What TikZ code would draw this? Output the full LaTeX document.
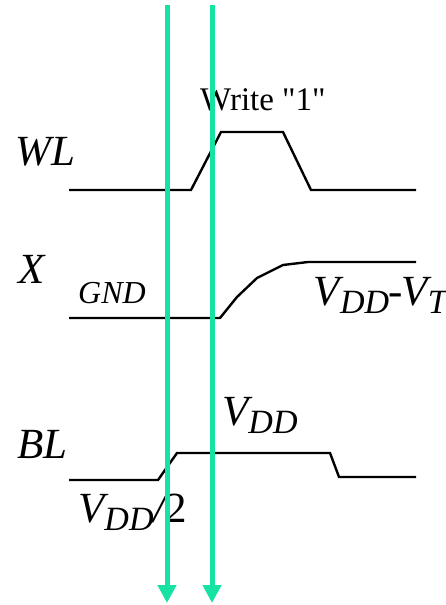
\documentclass[tikz,border=0pt]{standalone}
\usepackage{fontspec}
\setmainfont{Liberation Serif}
\usetikzlibrary{arrows.meta}
\definecolor{mint}{RGB}{22,226,164}
\newcommand{\vsub}[1]{\raisebox{-8pt}{\fontsize{34}{34}\selectfont #1}}
\begin{document}
\begin{tikzpicture}[x=1pt,y=-1pt,
  sig/.style={line width=2.4pt,line join=miter},
  lbl/.style={inner sep=0pt,anchor=base west,font=\fontsize{43}{43}\selectfont\itshape},
  guide/.style={draw=mint,line width=5pt,-{Triangle[width=18pt,length=18pt]}}]
\useasboundingbox (0,0) rectangle (446,605);
% waveforms
\draw[sig] (69,190) -- (191,190) -- (221,132) -- (283,132) -- (311,190) -- (416,190);
\draw[sig] (69,318) -- (220,318) -- (237,297) -- (257,278) -- (283,265) -- (308,262) -- (416,262);
\draw[sig] (69,480) -- (158,480) -- (177,453) -- (330,453) -- (339,477) -- (416,477);
% labels
\node[lbl] (wl) at (15,165) {WL};
\node[lbl,font=\fontsize{33}{33}\selectfont] (wr) at (200,110) {Write \textquotedbl 1\textquotedbl};
\node[lbl] (x) at (18,283) {X};
\node[lbl,font=\fontsize{32}{32}\selectfont\itshape] (gnd) at (78,303) {GND};
\node[lbl,anchor=base east] (vt) at (444,305) {V\vsub{DD}\kern-1pt-\kern-1ptV\vsub{T}\kern-3pt};
\node[lbl] (bl) at (17,458) {BL};
\node[lbl] (vdd) at (222,425) {V\vsub{DD}};
\node[lbl] (vh) at (78,522) {V\vsub{DD}/\upshape 2};
% guides
\coordinate (a1) at (167,5);
\coordinate (a2) at (167,603);
\coordinate (b1) at (212,5);
\coordinate (b2) at (212,603);
\draw[guide] (a1) -- (a2);
\draw[guide] (b1) -- (b2);
\end{tikzpicture}
\end{document}
